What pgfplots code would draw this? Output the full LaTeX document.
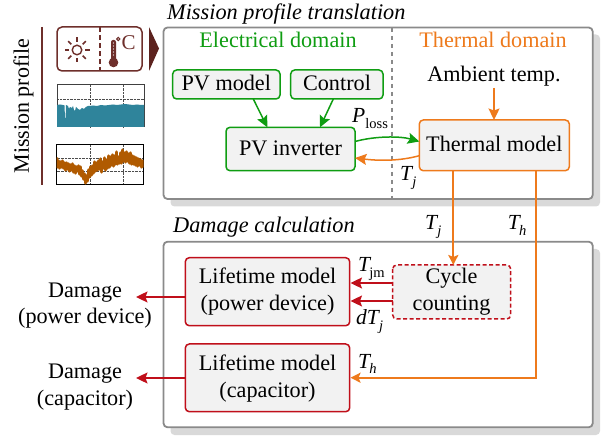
\documentclass[border=0pt]{standalone}
\usepackage{fontspec}
\setmainfont{Liberation Serif}
\usepackage{pgfplots}
\pgfplotsset{compat=1.18}
\usetikzlibrary{arrows.meta,calc}
\definecolor{cgreen}{HTML}{0F9D12}
\definecolor{corange}{HTML}{EE7A1C}
\definecolor{cred}{HTML}{C00F1A}
\definecolor{cbrown}{HTML}{6E2F2B}
\definecolor{cbrownd}{HTML}{5C221E}
\definecolor{cbox}{HTML}{F2F2F2}
\definecolor{cpanel}{HTML}{8A8A8A}
\definecolor{cshadow}{HTML}{D9D9D9}
\definecolor{cteal}{HTML}{2F849B}
\definecolor{cline}{HTML}{B05A00}
\newcommand{\fs}[1]{\fontsize{#1bp}{27bp}\selectfont}
\newcommand{\sub}[1]{\raisebox{-0.25em}{\fontsize{14.5bp}{14.5bp}\selectfont #1}}
\tikzset{
  arr/.style={-{Stealth[length=11.5bp,width=11bp,inset=2bp]},line width=1.5bp},
  longarr/.style={-{Stealth[length=10bp,width=10bp,inset=2bp]},line width=2bp},
  panel/.style={draw=cpanel,line width=1.8bp,fill=white,rounded corners=4bp},
  shadow/.style={fill=cshadow,rounded corners=4bp},
  bx/.style={line width=1.5bp,fill=cbox,rounded corners=4bp},
  lab/.style={anchor=base,inner sep=0pt,font=\fs{22.2}},
  sig/.style={anchor=base west,inner sep=0pt,font=\fs{21.5}},
}
\begin{document}
\begin{tikzpicture}[x=1bp,y=1bp]
\path[use as bounding box] (0,0) rectangle (602,437);
\begin{axis}[at={(0,0)},anchor=south west,scale only axis,width=602bp,height=437bp,
  xmin=0,xmax=602,ymin=0,ymax=437,y dir=reverse,hide axis,clip=false]
% panels
\fill[shadow] (170.5,34.5) rectangle (600,206.5);
\draw[panel] (163.5,27.5) rectangle (592.7,199);
\fill[shadow] (170.5,249) rectangle (600,435);
\draw[panel] (163.5,241.7) rectangle (592.7,427.3);
\draw[cpanel,line width=1.8bp,dash pattern=on 4.5bp off 3.5bp] (392.3,28) -- (392.3,199);
% headings
\node[anchor=base west,inner sep=0pt,font={\fs{22.3}\itshape}] at (167,20) {Mission profile translation};
\node[anchor=base west,inner sep=0pt,font={\fs{22.3}\itshape}] at (173,233) {Damage calculation};
\node[lab,text=cgreen] at (278,48) {Electrical domain};
\node[lab,text=corange] at (493,48) {Thermal domain};
\node[lab] at (494,82) {Ambient temp.};
% boxes
\draw[bx,draw=cgreen] (172.7,70) rectangle (280,99);
\node[lab] at (226.3,91) {PV model};
\draw[bx,draw=cgreen] (290.7,70) rectangle (383,99);
\node[lab] at (337,91) {Control};
\draw[bx,draw=cgreen] (226,127.3) rectangle (355,170.7);
\node[lab] at (290.5,156) {PV inverter};
\draw[bx,draw=corange] (419.3,120) rectangle (569.3,170.7);
\node[lab] at (494.3,152) {Thermal model};
\draw[bx,draw=cred] (185.3,257.7) rectangle (349.7,325.7);
\node[lab] at (267.5,284) {Lifetime model};
\node[lab] at (267.5,311) {(power device)};
\draw[bx,draw=cred] (185.3,344) rectangle (349.7,411.7);
\node[lab] at (267.5,370) {Lifetime model};
\node[lab] at (267.5,397) {(capacitor)};
\draw[bx,draw=cred,dash pattern=on 4bp off 2.5bp] (392.7,265) rectangle (510.7,319);
\node[lab] at (451.5,284) {Cycle};
\node[lab] at (451.5,311) {counting};
% connectors
\draw[arr,draw=cgreen,fill=cgreen] (253.3,99) -- (267.3,127.3);
\draw[arr,draw=cgreen,fill=cgreen] (333.3,99) -- (320,127.3);
\draw[arr,draw=cgreen] (355,141.5) .. controls (375,136) and (400,136) .. (419.3,141.5);
\draw[arr,draw=corange] (419.3,155.7) .. controls (400,161) and (380,161) .. (355,158);
\draw[arr,draw=corange] (494,88) -- (494,120);
\draw[longarr,draw=corange] (453.3,170.7) -- (453.3,265);
\draw[longarr,draw=corange] (535.7,170.7) -- (535.7,377.7) -- (350.5,377.7);
\draw[arr,draw=cred] (392.7,283) -- (350.5,283);
\draw[arr,draw=cred] (392.7,301) -- (350.5,301);
\draw[arr,draw=cred] (185.3,297) -- (136,297);
\draw[arr,draw=cred] (185.3,378) -- (136,378);
% signal labels
\node[sig] at (352,123) {\textit{P}\sub{loss}};
\node[sig] at (400,181) {\textit{T}\kern-1bp\sub{\textit{j}}};
\node[sig] at (425,230) {\textit{T}\kern-1bp\sub{\textit{j}}};
\node[sig] at (507.7,230) {\textit{T}\kern-2bp\sub{\textit{h}}};
\node[sig] at (358,272) {\textit{T}\kern-2bp\sub{jm}};
\node[sig] at (356,325) {\textit{dT}\kern-1bp\sub{\textit{j}}};
\node[sig] at (358,368) {\textit{T}\kern-2bp\sub{\textit{h}}};
% outputs
\node[lab] at (85,298) {Damage};
\node[lab] at (85,324) {(power device)};
\node[lab] at (85,378) {Damage};
\node[lab] at (85,405) {(capacitor)};
% left column
\node[rotate=90,font=\fs{22}] at (23.5,106) {Mission profile};
\draw[cbrown,line width=1.6bp] (42,27) -- (42,185);
\draw[cbrown,line width=1.5bp,rounded corners=5bp] (57,27) rectangle (142,71);
\draw[cbrown,line width=1.5bp,dash pattern=on 5bp off 3bp] (100,27.5) -- (100,71);
\fill[cbrownd] (149,27) -- (159,48.5) -- (149,71) -- cycle;
% sun
\draw[cbrown,line width=1.4bp] (77,50) circle[radius=4.8bp];
\pgfplotsinvokeforeach{0,45,...,315}{
  \draw[cbrown,line width=1.6bp] (77,50) ++(#1:8bp) -- ++(#1:4.5bp);
}
% thermometer
\fill[cbrown] (113.5,62.5) circle[radius=4.8bp];
\fill[cbrown,rounded corners=2bp] (111,40) rectangle (116,61);
\pgfplotsinvokeforeach{43,46,49,52,55}{\fill[white] (113.5,#1) circle[radius=0.6bp];}
\draw[cbrown,line width=1bp] (118.2,39) circle[radius=1.6bp];
\node[anchor=base,inner sep=0pt,font=\fs{21},text=cbrown] at (128.5,50) {C};
\end{axis}
% mini plot 1
\begin{axis}[at={(57bp,310bp)},anchor=south west,scale only axis,width=87bp,height=42bp,
  xmin=0,xmax=87,ymin=0,ymax=42,xtick={33,66},ytick={28},xticklabels={},yticklabels={},
  major tick length=0,grid=both,grid style={densely dotted,black!70,line width=0.9bp},
  axis line style={draw=black!75,line width=1bp},axis on top=false]
\addplot[draw=none,fill=cteal] coordinates {(0,0)(0,22)(3,22.5)(6,22)(7.5,21.5)(8,9)(8.6,9)(9,22)(11,21)(12,18)(13,20)(15,19)(16,21)(17,17)(18,16)(19,20)(21,18)(23,17)(25,19)(27,18)(29,20)(31,21)(33,21)(36,21.5)(40,21)(44,22)(48,21.5)(52,22)(56,22.5)(60,22)(64,22.5)(68,23)(72,22.5)(76,22)(80,22.5)(84,22)(87,22)(87,0)} \closedcycle;
\end{axis}
% mini plot 2
\begin{axis}[at={(56.5bp,252.5bp)},anchor=south west,scale only axis,width=87bp,height=40bp,
  xmin=0,xmax=87,ymin=0,ymax=40,xtick={33.5,66.5},ytick={13.5,26.5},xticklabels={},yticklabels={},
  major tick length=0,grid=both,grid style={densely dotted,black!70,line width=0.9bp},
  axis line style={draw=black,line width=1bp},axis on top=false]
\addplot[cline,line width=2.4bp,line join=round] coordinates {
(0.5,27)(1,17)(2,24)(3,16)(4,23)(5,17)(6,24)(7,16)(8,22)(9,14)(10,22)(11,15)(12,21)(13,13)(14,20)(15,14)(16,21)(17,12)(18,19)(19,11)(20,18)(21,13)(22,19)(23,10)(24,18)(25,8)(26,14)(27,5)(28,11)(29,1)(30,9)(31,3)(32,15)(33,7)(34,18)(35,9)(36,19)(37,11)(38,23)(39,13)(40,22)(41,14)(42,24)(43,15)(44,26)(45,12)(46,23)(47,16)(48,27)(49,14)(50,25)(51,16)(52,29)(53,17)(54,28)(55,19)(56,30)(57,18)(58,29)(59,20)(60,33)(61,20)(62,28)(63,21)(64,32)(65,21)(66,35)(67,23)(68,32)(69,22)(70,33)(71,23)(72,31)(73,21)(74,32)(75,20)(76,29)(77,20)(78,28)(79,19)(80,27)(81,18)(82,26)(83,19)(84,25)(85,17)(86,24)(87,17)};
\end{axis}
\end{tikzpicture}
\end{document}
